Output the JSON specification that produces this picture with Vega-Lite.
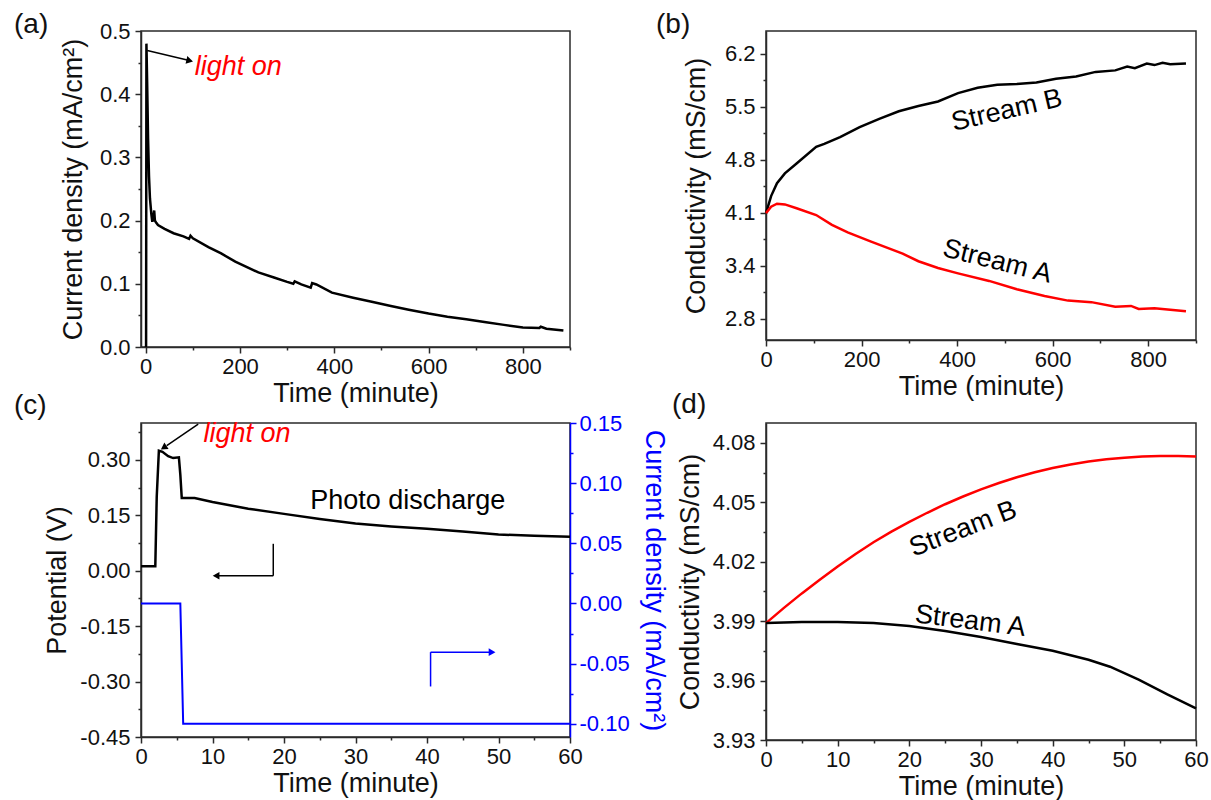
{
  "$schema": "https://vega.github.io/schema/vega-lite/v6.json",
  "padding": {"left": 13, "top": 10, "right": 5, "bottom": 5},
  "background": "white",
  "config": {
    "font": "Liberation Sans",
    "view": {"stroke": "#2a2a2a", "strokeWidth": 1.5},
    "axis": {"domainColor": "#2a2a2a", "domainWidth": 1.5, "tickColor": "#2a2a2a", "tickWidth": 1.5, "labelFont": "Liberation Sans", "labelFontSize": 22, "labelColor": "#111", "titleFont": "Liberation Sans", "titleFontSize": 27, "titleFontWeight": "normal", "titleColor": "#111", "grid": false, "labelFlush": false, "labelOverlap": false, "labelPadding": 3, "titlePadding": 3},
    "axisY": {"labelPadding": 5},
    "title": {"font": "Liberation Sans", "fontSize": 28, "fontWeight": "normal", "anchor": "start", "frame": "group", "offset": 0, "baseline": "bottom", "color": "#111"}
  },
  "datasets": {
    "a": [
      {"time": 0, "j": 0}, {"time": 0.8, "j": 0.002}, {"time": 1.5, "j": 0.48}, {"time": 3, "j": 0.42}, {"time": 5, "j": 0.33}, {"time": 7, "j": 0.27}, {"time": 9, "j": 0.235}, {"time": 12, "j": 0.21}, {"time": 14, "j": 0.198}, {"time": 16, "j": 0.205}, {"time": 18, "j": 0.216}, {"time": 19.5, "j": 0.2}, {"time": 22, "j": 0.197}, {"time": 26, "j": 0.193}, {"time": 40, "j": 0.187}, {"time": 59, "j": 0.18}, {"time": 80, "j": 0.175}, {"time": 92, "j": 0.171}, {"time": 95, "j": 0.176}, {"time": 100, "j": 0.172}, {"time": 133, "j": 0.158}, {"time": 160, "j": 0.148}, {"time": 190, "j": 0.135}, {"time": 239, "j": 0.118}, {"time": 272, "j": 0.11}, {"time": 300, "j": 0.103}, {"time": 313, "j": 0.1}, {"time": 316, "j": 0.104}, {"time": 330, "j": 0.099}, {"time": 350, "j": 0.094}, {"time": 353, "j": 0.101}, {"time": 362, "j": 0.099}, {"time": 395, "j": 0.086}, {"time": 440, "j": 0.078}, {"time": 477, "j": 0.072}, {"time": 520, "j": 0.065}, {"time": 558, "j": 0.059}, {"time": 600, "j": 0.053}, {"time": 640, "j": 0.048}, {"time": 680, "j": 0.044}, {"time": 722, "j": 0.039}, {"time": 760, "j": 0.035}, {"time": 800, "j": 0.031}, {"time": 835, "j": 0.03}, {"time": 838, "j": 0.032}, {"time": 850, "j": 0.029}, {"time": 886, "j": 0.026}
    ],
    "b": [
      {"stream": "Stream B", "time": 0, "cond": 4.095}, {"stream": "Stream B", "time": 10.7, "cond": 4.32}, {"stream": "Stream B", "time": 23, "cond": 4.49}, {"stream": "Stream B", "time": 39.5, "cond": 4.62}, {"stream": "Stream B", "time": 64, "cond": 4.75}, {"stream": "Stream B", "time": 105, "cond": 4.97}, {"stream": "Stream B", "time": 122, "cond": 5.01}, {"stream": "Stream B", "time": 155, "cond": 5.1}, {"stream": "Stream B", "time": 196, "cond": 5.23}, {"stream": "Stream B", "time": 237, "cond": 5.34}, {"stream": "Stream B", "time": 278, "cond": 5.44}, {"stream": "Stream B", "time": 319, "cond": 5.51}, {"stream": "Stream B", "time": 360, "cond": 5.57}, {"stream": "Stream B", "time": 402, "cond": 5.68}, {"stream": "Stream B", "time": 443, "cond": 5.75}, {"stream": "Stream B", "time": 484, "cond": 5.79}, {"stream": "Stream B", "time": 525, "cond": 5.8}, {"stream": "Stream B", "time": 566, "cond": 5.82}, {"stream": "Stream B", "time": 607, "cond": 5.87}, {"stream": "Stream B", "time": 649, "cond": 5.9}, {"stream": "Stream B", "time": 690, "cond": 5.96}, {"stream": "Stream B", "time": 731, "cond": 5.98}, {"stream": "Stream B", "time": 756, "cond": 6.03}, {"stream": "Stream B", "time": 772, "cond": 6.01}, {"stream": "Stream B", "time": 797, "cond": 6.07}, {"stream": "Stream B", "time": 813, "cond": 6.05}, {"stream": "Stream B", "time": 830, "cond": 6.08}, {"stream": "Stream B", "time": 846, "cond": 6.06}, {"stream": "Stream B", "time": 879, "cond": 6.07},
      {"stream": "Stream A", "time": 0, "cond": 4.095}, {"stream": "Stream A", "time": 10.7, "cond": 4.18}, {"stream": "Stream A", "time": 23, "cond": 4.22}, {"stream": "Stream A", "time": 39.5, "cond": 4.21}, {"stream": "Stream A", "time": 64, "cond": 4.16}, {"stream": "Stream A", "time": 105, "cond": 4.07}, {"stream": "Stream A", "time": 138, "cond": 3.94}, {"stream": "Stream A", "time": 171, "cond": 3.84}, {"stream": "Stream A", "time": 220, "cond": 3.72}, {"stream": "Stream A", "time": 286, "cond": 3.56}, {"stream": "Stream A", "time": 319, "cond": 3.46}, {"stream": "Stream A", "time": 360, "cond": 3.37}, {"stream": "Stream A", "time": 402, "cond": 3.3}, {"stream": "Stream A", "time": 467, "cond": 3.2}, {"stream": "Stream A", "time": 525, "cond": 3.09}, {"stream": "Stream A", "time": 583, "cond": 3.0}, {"stream": "Stream A", "time": 632, "cond": 2.94}, {"stream": "Stream A", "time": 681, "cond": 2.92}, {"stream": "Stream A", "time": 731, "cond": 2.86}, {"stream": "Stream A", "time": 764, "cond": 2.87}, {"stream": "Stream A", "time": 780, "cond": 2.83}, {"stream": "Stream A", "time": 813, "cond": 2.84}, {"stream": "Stream A", "time": 846, "cond": 2.82}, {"stream": "Stream A", "time": 879, "cond": 2.8}
    ],
    "c_pot": [
      {"time": 0, "pot": 0.012}, {"time": 2.0, "pot": 0.012}, {"time": 2.2, "pot": 0.2}, {"time": 2.5, "pot": 0.325}, {"time": 3.0, "pot": 0.322}, {"time": 3.8, "pot": 0.31}, {"time": 4.5, "pot": 0.305}, {"time": 5.3, "pot": 0.307}, {"time": 5.5, "pot": 0.26}, {"time": 5.7, "pot": 0.197}, {"time": 7.5, "pot": 0.197}, {"time": 10, "pot": 0.186}, {"time": 15, "pot": 0.168}, {"time": 20, "pot": 0.154}, {"time": 25, "pot": 0.14}, {"time": 30, "pot": 0.128}, {"time": 35, "pot": 0.12}, {"time": 40, "pot": 0.114}, {"time": 45, "pot": 0.106}, {"time": 50, "pot": 0.098}, {"time": 55, "pot": 0.095}, {"time": 60, "pot": 0.092}
    ],
    "c_cur": [
      {"time": 0, "cur": 0}, {"time": 5.5, "cur": 0}, {"time": 5.9, "cur": -0.1}, {"time": 60, "cur": -0.1}
    ],
    "d": [
      {"stream": "Stream B", "time": 0, "cond": 3.989}, {"stream": "Stream B", "time": 2.5, "cond": 3.9967}, {"stream": "Stream B", "time": 5, "cond": 4.004}, {"stream": "Stream B", "time": 7.5, "cond": 4.0109}, {"stream": "Stream B", "time": 10, "cond": 4.0176}, {"stream": "Stream B", "time": 12.5, "cond": 4.0239}, {"stream": "Stream B", "time": 15, "cond": 4.0298}, {"stream": "Stream B", "time": 17.5, "cond": 4.0352}, {"stream": "Stream B", "time": 20, "cond": 4.0401}, {"stream": "Stream B", "time": 22.5, "cond": 4.0447}, {"stream": "Stream B", "time": 25, "cond": 4.049}, {"stream": "Stream B", "time": 27.5, "cond": 4.0529}, {"stream": "Stream B", "time": 30, "cond": 4.0565}, {"stream": "Stream B", "time": 32.5, "cond": 4.0597}, {"stream": "Stream B", "time": 35, "cond": 4.0626}, {"stream": "Stream B", "time": 37.5, "cond": 4.0651}, {"stream": "Stream B", "time": 40, "cond": 4.0673}, {"stream": "Stream B", "time": 42.5, "cond": 4.0691}, {"stream": "Stream B", "time": 45, "cond": 4.0706}, {"stream": "Stream B", "time": 47.5, "cond": 4.0717}, {"stream": "Stream B", "time": 50, "cond": 4.0725}, {"stream": "Stream B", "time": 52.5, "cond": 4.0731}, {"stream": "Stream B", "time": 55, "cond": 4.0734}, {"stream": "Stream B", "time": 57.5, "cond": 4.0734}, {"stream": "Stream B", "time": 60, "cond": 4.0731},
      {"stream": "Stream A", "time": 0, "cond": 3.989}, {"stream": "Stream A", "time": 5, "cond": 3.9895}, {"stream": "Stream A", "time": 10, "cond": 3.9895}, {"stream": "Stream A", "time": 15, "cond": 3.989}, {"stream": "Stream A", "time": 20, "cond": 3.9875}, {"stream": "Stream A", "time": 25, "cond": 3.985}, {"stream": "Stream A", "time": 30, "cond": 3.982}, {"stream": "Stream A", "time": 35, "cond": 3.9785}, {"stream": "Stream A", "time": 40, "cond": 3.975}, {"stream": "Stream A", "time": 45, "cond": 3.9705}, {"stream": "Stream A", "time": 48, "cond": 3.967}, {"stream": "Stream A", "time": 52, "cond": 3.9605}, {"stream": "Stream A", "time": 56, "cond": 3.953}, {"stream": "Stream A", "time": 60, "cond": 3.946}
    ]
  },
  "bounds": "flush",
  "columns": 2,
  "spacing": {"row": 76, "column": 196},
  "concat": [
    {
      "width": 429, "height": 316,
      "title": {"text": "(a)", "dx": -127, "dy": 23},
      "encoding": {
        "x": {"field": "time", "type": "quantitative", "scale": {"domain": [-10, 900], "nice": false, "zero": false},
          "axis": {"title": "Time (minute)", "values": [0, 100, 200, 300, 400, 500, 600, 700, 800, 900], "format": "d", "labelExpr": "datum.value % 200 === 0 ? datum.label : ''", "tickSize": {"condition": {"test": "datum.value % 200 === 0", "value": 6}, "value": 3}}},
        "y": {"field": "j", "type": "quantitative", "scale": {"domain": [0, 0.5], "nice": false, "zero": false},
          "axis": {"title": "Current density (mA/cm²)", "titlePadding": 12, "values": [0, 0.05, 0.1, 0.15, 0.2, 0.25, 0.3, 0.35, 0.4, 0.45, 0.5], "labelExpr": "round(datum.value * 20) % 2 === 0 ? format(datum.value, '.1f') : ''", "tickSize": {"condition": {"test": "round(datum.value * 20) % 2 === 0", "value": 6}, "value": 3}}}
      },
      "layer": [
        {"data": {"name": "a"}, "mark": {"type": "line", "color": "#000", "strokeWidth": 2.5}, "encoding": {}},
        {"data": {"values": [{"time": 3.3, "j": 0.469, "time2": 88, "j2": 0.454}]}, "mark": {"type": "rule", "color": "#000", "strokeWidth": 1.5}, "encoding": {"x2": {"field": "time2"}, "y2": {"field": "j2"}}},
        {"data": {"values": [{"time": 91, "j": 0.4535}]}, "mark": {"type": "point", "shape": "triangle", "angle": 103, "filled": true, "color": "#000", "size": 60, "opacity": 1}},
        {"data": {"values": [{"time": 104, "j": 0.443, "label": "light on"}]}, "mark": {"type": "text", "color": "#ff0000", "fontStyle": "italic", "fontSize": 27, "align": "left", "baseline": "middle"}, "encoding": {"text": {"field": "label"}}}
      ]
    },
    {
      "width": 430, "height": 309,
      "title": {"text": "(b)", "dx": -110, "dy": 12},
      "encoding": {
        "x": {"field": "time", "type": "quantitative", "scale": {"domain": [0, 900], "nice": false, "zero": false},
          "axis": {"title": "Time (minute)", "values": [0, 100, 200, 300, 400, 500, 600, 700, 800, 900], "format": "d", "labelExpr": "datum.value % 200 === 0 ? datum.label : ''", "tickSize": {"condition": {"test": "datum.value % 200 === 0", "value": 6}, "value": 3}}},
        "y": {"field": "cond", "type": "quantitative", "scale": {"domain": [2.42, 6.5], "nice": false, "zero": false},
          "axis": {"title": "Conductivity (mS/cm)", "titlePadding": 14, "values": [2.7, 3.05, 3.4, 3.75, 4.1, 4.45, 4.8, 5.15, 5.5, 5.85, 6.2], "labelExpr": "round((datum.value - 2.7) / 0.35) % 2 === 0 ? (datum.value < 3 ? '2.8' : format(datum.value, '.1f')) : ''", "tickSize": {"condition": {"test": "round((datum.value - 2.7) / 0.35) % 2 === 0", "value": 6}, "value": 3}}}
      },
      "layer": [
        {"data": {"name": "b"}, "transform": [{"filter": "datum.stream === 'Stream B'"}], "mark": {"type": "line", "color": "#000", "strokeWidth": 2.5}, "encoding": {}},
        {"data": {"name": "b"}, "transform": [{"filter": "datum.stream === 'Stream A'"}], "mark": {"type": "line", "color": "#ff0000", "strokeWidth": 2.5}, "encoding": {}},
        {"data": {"values": [{"time": 504, "cond": 5.45, "label": "Stream B"}]}, "mark": {"type": "text", "color": "#000", "fontSize": 27, "angle": 347, "align": "center", "baseline": "middle"}, "encoding": {"text": {"field": "label"}}},
        {"data": {"values": [{"time": 484, "cond": 3.456, "label": "Stream A"}]}, "mark": {"type": "text", "color": "#000", "fontSize": 27, "angle": 14, "align": "center", "baseline": "middle"}, "encoding": {"text": {"field": "label"}}}
      ]
    },
    {
      "width": 429, "height": 314,
      "title": {"text": "(c)", "dx": -127, "dy": 12},
      "encoding": {
        "x": {"field": "time", "type": "quantitative", "scale": {"domain": [0, 60], "nice": false, "zero": false},
          "axis": {"title": "Time (minute)", "values": [0, 5, 10, 15, 20, 25, 30, 35, 40, 45, 50, 55, 60], "format": "d", "labelExpr": "datum.value % 10 === 0 ? datum.label : ''", "tickSize": {"condition": {"test": "datum.value % 10 === 0", "value": 6}, "value": 3}}}
      },
      "resolve": {"scale": {"y": "independent"}},
      "layer": [
        {
          "encoding": {
            "y": {"field": "pot", "type": "quantitative", "scale": {"domain": [-0.45, 0.4], "nice": false, "zero": false},
              "axis": {"orient": "left", "title": "Potential (V)", "titlePadding": 8, "values": [-0.45, -0.375, -0.3, -0.225, -0.15, -0.075, 0, 0.075, 0.15, 0.225, 0.3, 0.375], "labelExpr": "round(datum.value / 0.075) % 2 === 0 ? replace(format(datum.value, '.2f'), '−', '-') : ''", "tickSize": {"condition": {"test": "round(datum.value / 0.075) % 2 === 0", "value": 6}, "value": 3}}}
          },
          "layer": [
            {"data": {"name": "c_pot"}, "mark": {"type": "line", "color": "#000", "strokeWidth": 2.5}, "encoding": {}},
            {"data": {"values": [{"time": 8.0, "pot": 0.397, "time2": 3.6, "pot2": 0.339}, {"time": 18.5, "pot": 0.073, "time2": 18.5, "pot2": -0.0135}, {"time": 18.5, "pot": -0.0135, "time2": 10.6, "pot2": -0.0135}]}, "mark": {"type": "rule", "color": "#000", "strokeWidth": 1.5}, "encoding": {"x2": {"field": "time2"}, "y2": {"field": "pot2"}}},
            {"data": {"values": [{"time": 3.3, "pot": 0.335}]}, "mark": {"type": "point", "shape": "triangle", "angle": 237, "filled": true, "color": "#000", "size": 60, "opacity": 1}},
            {"data": {"values": [{"time": 10.5, "pot": -0.0135}]}, "mark": {"type": "point", "shape": "triangle-left", "filled": true, "color": "#000", "size": 60, "opacity": 1}},
            {"data": {"values": [{"time": 8.75, "pot": 0.37, "label": "light on"}]}, "mark": {"type": "text", "color": "#ff0000", "fontStyle": "italic", "fontSize": 27, "align": "left", "baseline": "middle"}, "encoding": {"text": {"field": "label"}}},
            {"data": {"values": [{"time": 37.3, "pot": 0.189, "label": "Photo discharge"}]}, "mark": {"type": "text", "color": "#000", "fontSize": 27, "align": "center", "baseline": "middle"}, "encoding": {"text": {"field": "label"}}}
          ]
        },
        {
          "encoding": {
            "y": {"field": "cur", "type": "quantitative", "scale": {"domain": [-0.111, 0.15], "nice": false, "zero": false},
              "axis": {"orient": "right", "title": "Current density (mA/cm²)", "labelPadding": 3, "titlePadding": 10, "values": [-0.1, -0.075, -0.05, -0.025, 0, 0.025, 0.05, 0.075, 0.1, 0.125, 0.15], "labelExpr": "round(datum.value / 0.025) % 2 === 0 ? replace(format(datum.value, '.2f'), '−', '-') : ''", "tickSize": {"condition": {"test": "round(datum.value / 0.025) % 2 === 0", "value": 6}, "value": 3}, "domainColor": "#0000ff", "tickColor": "#0000ff", "labelColor": "#0000ff", "titleColor": "#0000ff"}}
          },
          "layer": [
            {"data": {"name": "c_cur"}, "mark": {"type": "line", "color": "#0000ff", "strokeWidth": 2}, "encoding": {}},
            {"data": {"values": [{"time": 40.5, "cur": -0.069, "time2": 40.5, "cur2": -0.0405}, {"time": 40.5, "cur": -0.0405, "time2": 48.8, "cur2": -0.0405}]}, "mark": {"type": "rule", "color": "#0000ff", "strokeWidth": 1.5}, "encoding": {"x2": {"field": "time2"}, "y2": {"field": "cur2"}}},
            {"data": {"values": [{"time": 49.1, "cur": -0.0405}]}, "mark": {"type": "point", "shape": "triangle-right", "filled": true, "color": "#0000ff", "size": 60, "opacity": 1}}
          ]
        }
      ]
    },
    {
      "width": 430, "height": 317,
      "title": {"text": "(d)", "dx": -94, "dy": 0},
      "encoding": {
        "x": {"field": "time", "type": "quantitative", "scale": {"domain": [0, 60], "nice": false, "zero": false},
          "axis": {"title": "Time (minute)", "values": [0, 5, 10, 15, 20, 25, 30, 35, 40, 45, 50, 55, 60], "format": "d", "labelExpr": "datum.value % 10 === 0 ? datum.label : ''", "tickSize": {"condition": {"test": "datum.value % 10 === 0", "value": 6}, "value": 3}}},
        "y": {"field": "cond", "type": "quantitative", "scale": {"domain": [3.93, 4.09], "nice": false, "zero": false},
          "axis": {"title": "Conductivity (mS/cm)", "titlePadding": 8, "values": [3.93, 3.945, 3.96, 3.975, 3.99, 4.005, 4.02, 4.035, 4.05, 4.065, 4.08], "labelExpr": "round((datum.value - 3.93) / 0.015) % 2 === 0 ? format(datum.value, '.2f') : ''", "tickSize": {"condition": {"test": "round((datum.value - 3.93) / 0.015) % 2 === 0", "value": 6}, "value": 3}}}
      },
      "layer": [
        {"data": {"name": "d"}, "transform": [{"filter": "datum.stream === 'Stream B'"}], "mark": {"type": "line", "color": "#ff0000", "strokeWidth": 2.5}, "encoding": {}},
        {"data": {"name": "d"}, "transform": [{"filter": "datum.stream === 'Stream A'"}], "mark": {"type": "line", "color": "#000", "strokeWidth": 2.5}, "encoding": {}},
        {"data": {"values": [{"time": 27.5, "cond": 4.0365, "label": "Stream B"}]}, "mark": {"type": "text", "color": "#000", "fontSize": 27, "angle": 339, "align": "center", "baseline": "middle"}, "encoding": {"text": {"field": "label"}}},
        {"data": {"values": [{"time": 28.5, "cond": 3.99, "label": "Stream A"}]}, "mark": {"type": "text", "color": "#000", "fontSize": 27, "angle": 7, "align": "center", "baseline": "middle"}, "encoding": {"text": {"field": "label"}}}
      ]
    }
  ]
}
